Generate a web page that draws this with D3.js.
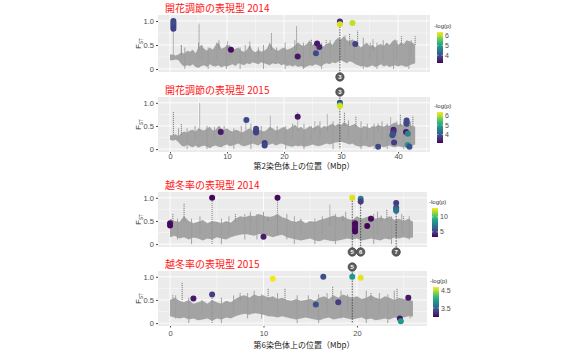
<!DOCTYPE html>
<html>
<head>
<meta charset="utf-8">
<script src="https://cdn.jsdelivr.net/npm/d3@7"></script>
<style>
  body { margin: 0; background: #fff; }
  text { font-family: "Liberation Sans", Arial, sans-serif; }
  .jp { font-family: "Noto Sans CJK JP", sans-serif; }
</style>
</head>
<body>
<script>
// chr2 Fst band, upper / lower edge every 0.5 Mbp (0 - 43)
var p1Hi = [0.30,0.30,0.28,0.30,0.35,0.32,0.38,0.36,0.40,0.33,
  0.45,0.50,0.42,0.38,0.45,0.40,0.50,0.55,0.42,0.45,
  0.48,0.50,0.40,0.42,0.45,0.38,0.36,0.40,0.50,0.38,
  0.35,0.40,0.36,0.38,0.42,0.55,0.45,0.40,0.38,0.42,
  0.45,0.40,0.42,0.45,0.50,0.55,0.50,0.48,0.52,0.60,
  0.50,0.55,0.50,0.45,0.48,0.52,0.55,0.50,0.60,0.65,
  0.62,0.68,0.60,0.58,0.62,0.55,0.50,0.45,0.50,0.55,
  0.48,0.50,0.45,0.50,0.52,0.48,0.55,0.50,0.58,0.62,
  0.50,0.55,0.52,0.60,0.58,0.55,0.50];
var p1Lo = [0.18,0.18,0.20,0.18,0.10,0.05,0.08,0.06,0.10,0.04,
  0.02,0.06,0.08,0.04,0.10,0.06,0.05,0.08,0.03,0.06,
  0.05,0.08,0.10,0.06,0.12,0.10,0.08,0.12,0.10,0.14,
  0.12,0.10,0.14,0.12,0.10,0.08,0.12,0.10,0.12,0.08,
  0.10,0.06,0.08,0.05,0.08,0.04,0.06,0.02,0.05,0.08,
  0.06,0.10,0.08,0.05,0.10,0.12,0.10,0.14,0.12,0.15,
  0.18,0.15,0.12,0.16,0.14,0.10,0.08,0.05,0.06,0.03,
  0.05,0.08,0.04,0.06,0.10,0.05,0.08,0.04,0.06,0.08,
  0.05,0.08,0.06,0.04,0.08,0.10,0.12];
var p2Hi = [0.30,0.30,0.32,0.28,0.35,0.38,0.36,0.40,0.42,0.38,
  0.45,0.42,0.40,0.45,0.48,0.40,0.42,0.50,0.45,0.42,
  0.45,0.40,0.38,0.42,0.40,0.36,0.38,0.42,0.45,0.40,
  0.38,0.42,0.40,0.38,0.42,0.48,0.45,0.40,0.42,0.45,
  0.48,0.42,0.45,0.50,0.52,0.45,0.48,0.42,0.45,0.50,
  0.45,0.48,0.52,0.45,0.50,0.48,0.52,0.55,0.50,0.55,
  0.52,0.58,0.55,0.50,0.52,0.55,0.48,0.45,0.50,0.48,
  0.45,0.50,0.48,0.52,0.50,0.48,0.52,0.50,0.55,0.58,
  0.52,0.55,0.50,0.55,0.52,0.50,0.48];
var p2Lo = [0.20,0.18,0.20,0.15,0.08,0.05,0.10,0.06,0.04,0.08,
  0.03,0.06,0.08,0.05,0.02,0.06,0.08,0.05,0.04,0.08,
  0.10,0.06,0.08,0.10,0.12,0.08,0.06,0.08,0.10,0.12,
  0.10,0.08,0.12,0.10,0.08,0.10,0.12,0.08,0.10,0.12,
  0.10,0.08,0.06,0.05,0.08,0.06,0.08,0.05,0.06,0.08,
  0.10,0.08,0.06,0.08,0.10,0.12,0.10,0.12,0.14,0.15,
  0.16,0.14,0.12,0.10,0.12,0.08,0.06,0.05,0.08,0.06,
  0.04,0.06,0.08,0.05,0.06,0.04,0.06,0.08,0.05,0.04,
  0.06,0.05,0.04,0.06,0.05,0.08,0.10];
// chr6 Fst band every 0.5 Mbp (0 - 26)
var p3Hi = [0.55,0.50,0.48,0.60,0.50,0.45,0.48,0.52,0.45,0.50,
  0.48,0.45,0.50,0.46,0.55,0.60,0.58,0.62,0.60,0.65,
  0.62,0.58,0.60,0.65,0.58,0.55,0.50,0.48,0.52,0.45,
  0.50,0.48,0.52,0.55,0.58,0.62,0.58,0.60,0.55,0.52,
  0.60,0.55,0.58,0.62,0.55,0.58,0.55,0.60,0.52,0.55,
  0.50,0.55,0.48];
var p3Lo = [0.15,0.18,0.12,0.15,0.10,0.14,0.12,0.08,0.12,0.10,
  0.15,0.12,0.10,0.15,0.18,0.20,0.22,0.20,0.18,0.22,
  0.20,0.18,0.15,0.18,0.20,0.15,0.12,0.10,0.08,0.10,
  0.12,0.08,0.06,0.10,0.08,0.06,0.08,0.10,0.12,0.10,
  0.12,0.08,0.10,0.12,0.10,0.08,0.12,0.10,0.14,0.12,
  0.15,0.12,0.15];
var p4Hi = [0.50,0.55,0.48,0.45,0.50,0.42,0.45,0.48,0.42,0.50,
  0.45,0.42,0.48,0.45,0.52,0.58,0.60,0.55,0.62,0.58,
  0.60,0.55,0.58,0.52,0.55,0.50,0.48,0.52,0.48,0.50,
  0.52,0.48,0.55,0.58,0.52,0.60,0.55,0.62,0.58,0.55,
  0.58,0.52,0.55,0.60,0.55,0.52,0.58,0.55,0.50,0.55,
  0.52,0.50,0.48];
var p4Lo = [0.15,0.12,0.10,0.12,0.08,0.10,0.06,0.08,0.10,0.05,
  0.10,0.08,0.12,0.10,0.15,0.18,0.20,0.18,0.22,0.20,
  0.18,0.15,0.14,0.12,0.15,0.12,0.10,0.08,0.10,0.12,
  0.10,0.08,0.06,0.10,0.12,0.08,0.10,0.12,0.10,0.08,
  0.10,0.12,0.08,0.10,0.06,0.08,0.10,0.08,0.12,0.10,
  0.12,0.15,0.14];

// short SNP spikes sticking out of the band: [Mbp, from, to]
var w1 = [[2.0,0.2,0.5],[2.6,0.0,0.45],[5.0,0.2,0.55],[5.6,0.2,0.5],[6.7,0.0,0.45],[8.2,0.2,0.55],[9.9,0.0,0.5],
  [10.5,0.2,0.45],[12.3,0.0,0.45],[13.2,0.2,0.5],[15.5,0.2,0.45],[16.4,0.0,0.5],[18.7,0.2,0.45],[20.2,0.0,0.55],
  [21.9,0.2,0.6],[23.4,0.0,0.55],[24.6,0.2,0.5],[25.4,0.2,0.55],[26.6,0.0,0.55],[28.1,0.2,0.6],[30.7,0.2,0.7],
  [32.3,0.2,0.6],[33.9,0.0,0.65],[35.1,0.2,0.55],[36.3,0.0,0.55],[37.4,0.2,0.6],[39.2,0.0,0.55],[39.8,0.2,0.6],
  [41.9,0.0,0.5],[42.3,0.2,0.6]];
var w2 = [[1.5,0.2,0.45],[3.0,0.0,0.45],[4.4,0.2,0.5],[6.5,0.0,0.5],[7.8,0.2,0.48],[9.5,0.2,0.5],[11.2,0.0,0.45],
  [12.5,0.2,0.5],[14.2,0.0,0.55],[16.0,0.2,0.5],[18.8,0.2,0.5],[20.3,0.0,0.5],[21.5,0.2,0.55],[23.5,0.0,0.55],
  [24.8,0.2,0.5],[26.3,0.2,0.6],[28.6,0.0,0.6],[31.3,0.2,0.62],[33.5,0.0,0.6],[34.6,0.2,0.55],[35.8,0.0,0.55],
  [37.2,0.2,0.6],[38.1,0.0,0.55],[39.8,0.2,0.6],[41.0,0.0,0.58],[42.2,0.2,0.6]];
var w3 = [[0.8,0.1,0.55],[2.3,0.0,0.55],[3.2,0.2,0.6],[5.5,0.0,0.55],[6.3,0.2,0.6],[8.0,0.1,0.65],[8.6,0.2,0.7],
  [9.3,0.1,0.65],[10.0,0.2,0.7],[12.5,0.1,0.65],[13.3,0.0,0.6],[14.0,0.2,0.55],[15.5,0.0,0.55],[16.3,0.2,0.6],
  [17.7,0.0,0.65],[18.8,0.2,0.7],[21.8,0.0,0.65],[22.2,0.2,0.7],[23.7,0.0,0.6],[24.8,0.2,0.65],[25.6,0.1,0.6]];
var w4 = [[0.6,0.1,0.6],[2.0,0.0,0.55],[3.4,0.2,0.5],[5.5,0.0,0.55],[6.8,0.2,0.6],[8.3,0.1,0.65],[9.0,0.2,0.7],
  [9.8,0.1,0.62],[11.5,0.2,0.65],[13.6,0.0,0.6],[14.8,0.2,0.6],[15.9,0.0,0.62],[16.8,0.2,0.65],[18.3,0.1,0.7],
  [19.0,0.2,0.62],[21.0,0.0,0.7],[22.4,0.2,0.65],[23.3,0.0,0.62],[24.0,0.2,0.7],[25.7,0.1,0.6]];

// isolated high-Fst SNP stacks: [Mbp, from, to]
var s1 = [[0.6,0.3,1.0],[2.0,0.3,0.5],[5.1,0.4,0.95],[8.6,0.4,0.6],[10.1,0.4,0.58],[14.0,0.4,0.58],
  [17.8,0.4,0.75],[22.2,0.4,0.9],[24.8,0.5,0.62],[27.4,0.5,0.6],[31.5,0.5,0.75],[32.9,0.5,0.8],
  [35.6,0.4,0.62],[40.6,0.5,0.68],[43.0,0.5,0.68]];
var s2 = [[0.6,0.3,0.82],[2.0,0.3,0.55],[5.2,0.4,1.0],[8.7,0.4,0.5],[13.3,0.4,0.58],[17.6,0.4,0.72],
  [22.4,0.4,0.8],[25.4,0.4,0.6],[27.6,0.4,0.76],[30.6,0.5,0.8],[32.6,0.5,0.7],[36.5,0.4,0.56],
  [38.7,0.4,0.7],[40.4,0.5,0.74],[42.6,0.5,0.72]];
var s3 = [[0.3,0.5,0.65],[1.5,0.5,0.87],[4.5,0.0,1.0],[7.0,0.5,0.65],[10.5,0.5,0.6],[11.5,0.2,1.0],
  [17.1,0.4,0.85],[18.5,0.5,0.62],[22.6,0.5,0.62],[23.2,0.5,0.75],[25.0,0.5,0.6]];
var s4 = [[0.3,0.5,0.6],[1.3,0.5,0.87],[4.5,0.0,0.62],[7.5,0.5,0.65],[10.5,0.5,0.76],[12.3,0.5,0.75],
  [17.4,0.5,0.8],[21.5,0.5,0.65],[24.3,0.5,0.76],[25.3,0.5,0.6]];

// significant SNPs: [Mbp, Fst, -log(p)]
var pts1 = [[0.6,1.0,3.9],[0.6,0.96,3.9],[0.6,0.92,4.0],[0.6,0.88,3.9],[0.6,0.84,3.8],
  [10.7,0.40,3.3],[22.4,0.26,3.4],[25.6,0.33,3.9],[25.8,0.53,3.4],[26.2,0.46,3.5],
  [29.8,0.99,3.6],[29.8,0.93,6.2],[32.0,0.96,6.1],[32.5,0.52,3.8]];
var pts2 = [[8.9,0.37,3.3],[13.4,0.63,3.8],[15.1,0.44,3.9],[15.1,0.40,3.8],[15.1,0.36,3.7],
  [16.6,0.13,3.7],[16.6,0.08,3.8],[22.4,0.70,3.3],[29.8,1.0,3.7],[29.8,0.96,5.0],[29.8,0.93,6.2],
  [36.5,0.05,3.8],[39.2,0.42,3.4],[39.2,0.38,3.5],[39.1,0.33,3.8],[39.0,0.30,3.9],[39.3,0.14,3.7],
  [41.5,0.62,3.8],[41.5,0.58,3.9],[41.5,0.55,3.8],[41.4,0.37,3.3],[41.7,0.33,4.6],[41.7,0.09,4.8],
  [42.0,0.05,3.9]];
var pts3 = [[0.0,0.45,3.6],[0.0,0.40,3.5],[4.5,1.0,3.5],[10.0,0.16,4.0],[11.5,1.0,3.5],
  [19.5,1.0,12.5],[20.4,0.98,7.5],[20.4,0.92,5.0],[19.8,0.45,3.6],[19.8,0.40,3.5],[19.8,0.35,3.7],
  [19.8,0.31,3.6],[19.8,0.27,3.5],[21.1,0.39,3.4],[21.5,0.55,3.6],[24.2,0.89,5.0],[24.2,0.79,5.5],
  [24.2,0.75,6.5],[24.2,0.72,7.0]];
var pts4 = [[2.5,0.53,3.1],[4.5,0.62,3.3],[11.0,0.96,4.65],[15.6,0.40,3.4],[16.4,1.0,3.4],
  [18.0,0.45,3.3],[19.5,1.0,3.9],[20.4,0.98,4.6],[24.6,0.10,3.1],[24.7,0.04,3.9],[25.5,0.55,3.1]];

// candidate loci: [Mbp, label, Fst top]
var loci1 = [[29.8,"3",1.0]];
var loci3 = [[19.5,"5",1.0],[20.4,"6",0.98],[24.2,"7",0.9]];
var loci4 = [[19.5,"5",1.0]];

var titles = ["開花調節の表現型 2014","開花調節の表現型 2015","越冬率の表現型 2014","越冬率の表現型 2015"];
var xTitles = ["第2染色体上の位置（Mbp）","第6染色体上の位置（Mbp）"];
var chr2Ticks = [0,10,20,30,40];
var chr6Ticks = [0,10,20];
var fstTicks = [0,0.5,1.0];

var svg = d3.select("body").append("svg").attr("width",579).attr("height",353);
var defs = svg.append("defs");
var grad = defs.append("linearGradient").attr("id","vir").attr("x1",0).attr("y1",1).attr("x2",0).attr("y2",0);
d3.range(0,1.01,0.1).forEach(function(t){
  grad.append("stop").attr("offset",t).attr("stop-color",d3.interpolateViridis(t));
});

function panel(o) {
  var g = svg.append("g");
  var x = d3.scaleLinear().domain(o.xDom).range([158,o.right]);
  var y = d3.scaleLinear().domain([-0.0625,1.125]).range([o.bottom,o.top]);
  var col = d3.scaleSequential(d3.interpolateViridis).domain(o.cDom);

  g.append("rect").attr("x",158).attr("y",o.top).attr("width",o.right-158).attr("height",o.bottom-o.top).attr("fill","#ebebeb");
  [0.25,0.75].forEach(function(v){
    g.append("line").attr("x1",158).attr("x2",o.right).attr("y1",y(v)).attr("y2",y(v)).attr("stroke","#fff").attr("stroke-width",0.4);
  });
  fstTicks.forEach(function(v){
    g.append("line").attr("x1",158).attr("x2",o.right).attr("y1",y(v)).attr("y2",y(v)).attr("stroke","#fff").attr("stroke-width",0.9);
  });
  o.xTicks.forEach(function(v){
    g.append("line").attr("x1",x(v)).attr("x2",x(v)).attr("y1",o.top).attr("y2",o.bottom).attr("stroke","#fff").attr("stroke-width",0.9);
    g.append("line").attr("x1",x(v+5)).attr("x2",x(v+5)).attr("y1",o.top).attr("y2",o.bottom).attr("stroke","#fff").attr("stroke-width",0.4);
  });

  // Fst trace: filled band, vertical SNP lines and spikes
  var band = o.hi.map(function(h,i){ return [i*0.5,h,o.lo[i]]; });
  g.append("path").datum(band)
    .attr("d",d3.area().x(function(d){return x(d[0]);}).y0(function(d){return y(d[2]);}).y1(function(d){return y(d[1]);}))
    .attr("fill","#a3a3a3");
  g.selectAll(".wk").data(o.whisk).enter().append("line")
    .attr("x1",function(d){return x(d[0]);}).attr("x2",function(d){return x(d[0]);})
    .attr("y1",function(d){return y(d[1]);}).attr("y2",function(d){return y(d[2]);})
    .attr("stroke","#9c9c9c").attr("stroke-width",0.9);
  g.selectAll(".sp").data(o.spikes).enter().append("line")
    .attr("x1",function(d){return x(d[0]);}).attr("x2",function(d){return x(d[0]);})
    .attr("y1",function(d){return y(d[1]);}).attr("y2",function(d){return y(d[2]);})
    .attr("stroke","#8c8c8c").attr("stroke-width",1.1).attr("stroke-dasharray","1.2,0.8");

  // candidate loci
  o.loci.forEach(function(l){
    var y1 = o.markAbove ? o.markY : y(l[2]);
    var y2 = o.markAbove ? y(0) : o.markY;
    g.append("line").attr("x1",x(l[0])).attr("x2",x(l[0])).attr("y1",y1).attr("y2",y2)
      .attr("stroke","#333").attr("stroke-width",0.8).attr("stroke-dasharray","1.5,1.2");
  });

  g.selectAll(".pt").data(o.pts).enter().append("circle")
    .attr("cx",function(d){return x(d[0]);}).attr("cy",function(d){return y(d[1]);})
    .attr("r",3).attr("fill",function(d){return col(d[2]);});

  o.loci.forEach(function(l){
    g.append("circle").attr("cx",x(l[0])).attr("cy",o.markY).attr("r",4.2)
      .attr("fill","#606060").attr("stroke","#2b2b2b").attr("stroke-width",0.6);
    g.append("text").attr("x",x(l[0])).attr("y",o.markY+2.2).attr("text-anchor","middle")
      .attr("font-size","6px").attr("font-weight","bold").attr("fill","#fff").text(l[1]);
  });

  // axes
  var ya = g.append("g").attr("transform","translate(158,0)")
    .call(d3.axisLeft(y).tickValues(fstTicks).tickSize(2).tickPadding(2)
      .tickFormat(function(d){ return d === 0 ? "0" : d3.format(".1f")(d); }));
  ya.select(".domain").remove();
  ya.selectAll("line").attr("stroke","#444");
  ya.selectAll("text").attr("font-size","7.5px").attr("fill","#4d4d4d");
  if (o.xTitle) {
    var xa = g.append("g").attr("transform","translate(0," + o.bottom + ")")
      .call(d3.axisBottom(x).tickValues(o.xTicks).tickSize(1.5).tickPadding(o.tickPad));
    xa.select(".domain").remove();
    xa.selectAll("line").attr("stroke","#444");
    xa.selectAll("text").attr("font-size","7.5px").attr("fill","#4d4d4d");
    g.append("text").attr("class","jp").attr("x",304).attr("y",o.titleY).attr("text-anchor","middle")
      .attr("font-size","8px").attr("fill","#222").text(o.xTitle);
  }
  var yl = g.append("text").attr("transform","translate(141," + ((o.top+o.bottom)/2) + ") rotate(-90)")
    .attr("text-anchor","middle").attr("font-size","7.5px").attr("fill","#333");
  yl.append("tspan").text("F");
  yl.append("tspan").attr("font-size","4.5px").attr("dy","2").text("ST");

  g.append("text").attr("class","jp").attr("x",165).attr("y",o.top-3).attr("font-size","10px")
    .attr("fill","#ff1414").text(o.title);

  // colour bar
  var lg = o.legend;
  g.append("text").attr("x",lg.x-3).attr("y",lg.top-4).attr("font-size","6px").attr("fill","#333").text("-log(p)");
  g.append("rect").attr("x",lg.x).attr("y",lg.top).attr("width",6).attr("height",lg.bottom-lg.top).attr("fill","url(#vir)");
  var cy = d3.scaleLinear().domain(o.cDom).range([lg.bottom,lg.top]);
  lg.ticks.forEach(function(t){
    g.append("line").attr("x1",lg.x).attr("x2",lg.x+1.5).attr("y1",cy(t)).attr("y2",cy(t)).attr("stroke","#fff").attr("stroke-width",0.5);
    g.append("line").attr("x1",lg.x+4.5).attr("x2",lg.x+6).attr("y1",cy(t)).attr("y2",cy(t)).attr("stroke","#fff").attr("stroke-width",0.5);
    g.append("text").attr("x",lg.x+8).attr("y",cy(t)+2.5).attr("font-size","7px").attr("fill","#4d4d4d").text(t);
  });
}

panel({top:15,bottom:72,right:430,xDom:[-2.1,45.6],xTicks:chr2Ticks,hi:p1Hi,lo:p1Lo,whisk:w1,spikes:s1,pts:pts1,
  loci:loci1,markY:77,markAbove:false,cDom:[3.2,6.4],title:titles[0],
  legend:{x:437,top:32,bottom:63,ticks:[4,5,6]}});
panel({top:97,bottom:152,right:430,xDom:[-2.1,45.6],xTicks:chr2Ticks,hi:p2Hi,lo:p2Lo,whisk:w2,spikes:s2,pts:pts2,
  loci:loci1,markY:92,markAbove:true,cDom:[3.1,6.4],title:titles[1],xTitle:xTitles[0],tickPad:0.5,titleY:169,
  legend:{x:437,top:112,bottom:143,ticks:[4,5,6]}});
panel({top:192,bottom:247,right:427,xDom:[-1.29,27.5],xTicks:chr6Ticks,hi:p3Hi,lo:p3Lo,whisk:w3,spikes:s3,pts:pts3,
  loci:loci3,markY:252,markAbove:false,cDom:[3.3,13],title:titles[2],
  legend:{x:432,top:208,bottom:237,ticks:[5,10]}});
panel({top:271,bottom:326,right:427,xDom:[-1.29,27.5],xTicks:chr6Ticks,hi:p4Hi,lo:p4Lo,whisk:w4,spikes:s4,pts:pts4,
  loci:loci4,markY:267,markAbove:true,cDom:[3.0,4.67],title:titles[3],xTitle:xTitles[1],tickPad:3,titleY:348,
  legend:{x:433,top:287,bottom:317,ticks:[3.5,4.5]}});
</script>
</body>
</html>
